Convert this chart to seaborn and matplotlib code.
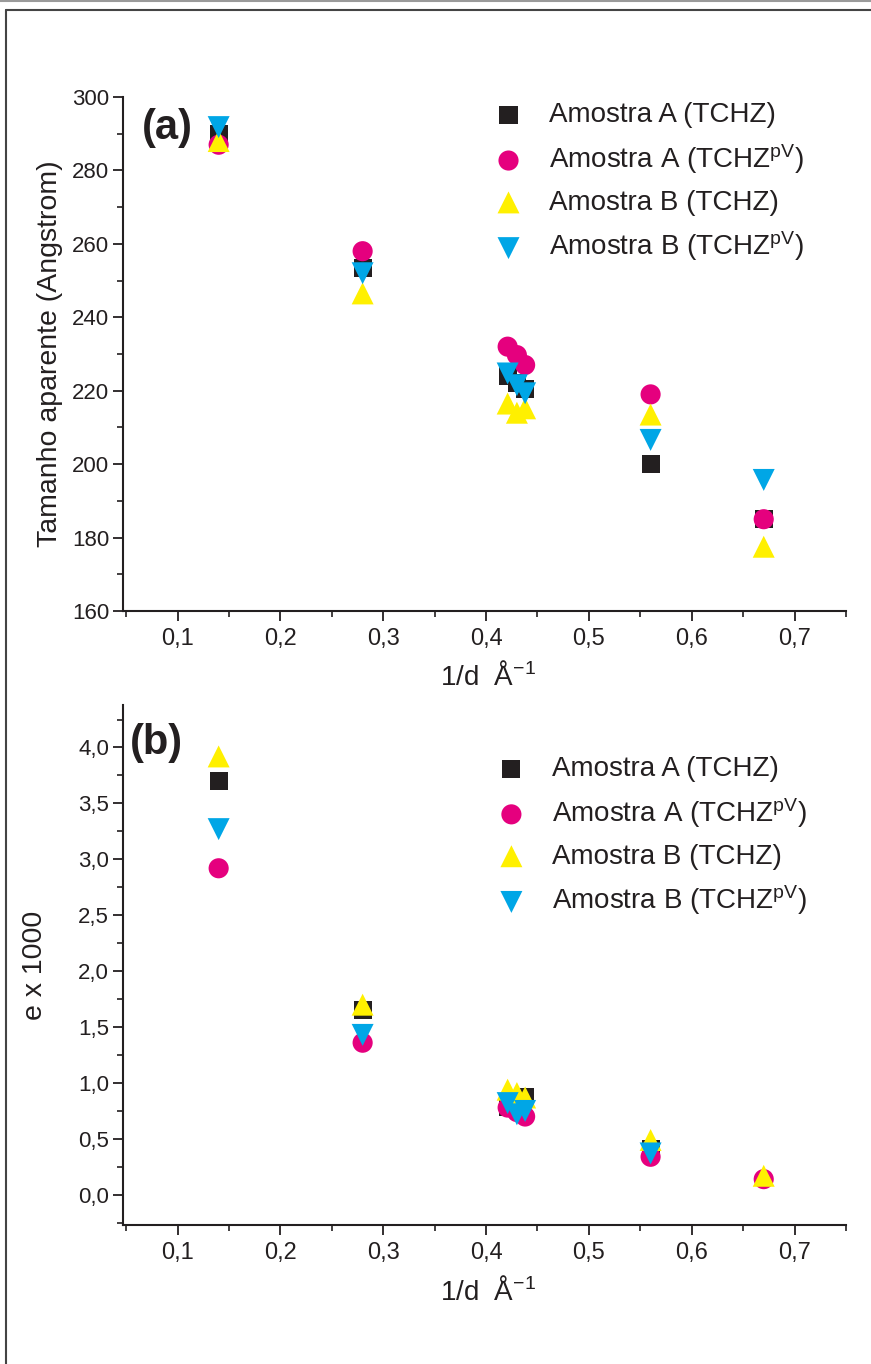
import numpy as np
import pandas as pd
import matplotlib
matplotlib.use("Agg")
import matplotlib.pyplot as plt
import seaborn as sns
from matplotlib import font_manager as fm
from matplotlib.ticker import MultipleLocator, FuncFormatter
from matplotlib.lines import Line2D

# ---------------- data ----------------
series_labels = [
    "Amostra A (TCHZ)",
    "Amostra A (TCHZ$^{\\mathrm{pV}}$)",
    "Amostra B (TCHZ)",
    "Amostra B (TCHZ$^{\\mathrm{pV}}$)",
]
inv_d = [0.14, 0.28, 0.421, 0.43, 0.438, 0.56, 0.67]

# (a) apparent size (Angstrom)
size_A_tchz = [290.0, 253.5, 224.0, 222.0, 220.5, 200.0, 185.0]
size_A_pv   = [287.0, 258.0, 232.0, 229.7, 227.0, 219.0, 185.0]
size_B_tchz = [288.0, 246.5, 216.5, 214.0, 215.2, 213.5, 177.5]
size_B_pv   = [291.8, 252.0, 224.7, 221.5, 219.3, 206.6, 195.7]

# (b) strain e x 1000
e_A_tchz = [3.70, 1.65, 0.79, 0.83, 0.87, 0.41, np.nan]
e_A_pv   = [2.92, 1.36, 0.78, 0.74, 0.70, 0.34, 0.14]
e_B_tchz = [3.92, 1.70, 0.94, 0.91, 0.87, 0.49, 0.17]
e_B_pv   = [3.27, 1.43, 0.82, 0.72, 0.75, 0.37, np.nan]

colors  = ["#231f20", "#e5007e", "#fff000", "#00a6e6"]
markers = ["s", "o", "^", "v"]
msizes  = [170, 210, 250, 250]

# ---------------- style ----------------
sns.set_style("ticks")
names = {f.name for f in fm.fontManager.ttflist}
NARROW = "Liberation Sans Narrow" if "Liberation Sans Narrow" in names else "Liberation Sans"
plt.rcParams["font.family"] = ["Liberation Sans", "DejaVu Sans"]
plt.rcParams["mathtext.fontset"] = "custom"
plt.rcParams["mathtext.rm"] = "Liberation Sans"
plt.rcParams["mathtext.it"] = "Liberation Sans:italic"
plt.rcParams["mathtext.bf"] = "Liberation Sans:bold"
INK = "#231f20"

W, H = 871, 1364
fig = plt.figure(figsize=(W / 100, H / 100), dpi=100)

def px_axes(x0, y0, x1, y1):
    return fig.add_axes([x0 / W, 1 - y1 / H, (x1 - x0) / W, (y1 - y0) / H])

ax1 = px_axes(123, 97, 846, 611)
ax2 = px_axes(123, 705, 846, 1225)

comma1 = FuncFormatter(lambda v, p: f"{v:.1f}".replace(".", ","))
intfmt = FuncFormatter(lambda v, p: f"{v:.0f}")

def draw(ax, ys):
    for lab, y, c, m, s in zip(series_labels, ys, colors, markers, msizes):
        df = pd.DataFrame({"x": inv_d, "y": y}).dropna()
        sns.scatterplot(data=df, x="x", y="y", ax=ax, color=c, marker=m, s=s,
                        linewidth=0, edgecolor="none", label=lab, zorder=3)

def style(ax, xlab_y):
    sns.despine(ax=ax)
    for sp in ("left", "bottom"):
        ax.spines[sp].set_linewidth(1.5)
        ax.spines[sp].set_color(INK)
    ax.xaxis.set_major_locator(MultipleLocator(0.1))
    ax.xaxis.set_minor_locator(MultipleLocator(0.05))
    ax.xaxis.set_major_formatter(comma1)
    ax.set_xlim(0.047, 0.75)
    ax.tick_params(which="major", direction="out", length=7, width=1.3, color=INK,
                   labelcolor=INK)
    ax.tick_params(which="minor", direction="out", length=4, width=1.2, color=INK)
    ax.tick_params(axis="y", labelsize=16, pad=3)
    ax.tick_params(axis="x", labelsize=17, pad=5)
    for t in ax.get_xticklabels():
        t.set_family(NARROW)
    ax.set_xlabel("1/d  Å$^{\\mathrm{-1}}$", fontsize=20, family=NARROW, color=INK)
    ax.xaxis.set_label_coords(0.505, xlab_y)

# (a)
draw(ax1, [size_A_tchz, size_A_pv, size_B_tchz, size_B_pv])
ax1.set_ylim(160, 300)
ax1.yaxis.set_major_locator(MultipleLocator(20))
ax1.yaxis.set_minor_locator(MultipleLocator(10))
ax1.yaxis.set_major_formatter(intfmt)
style(ax1, -0.099)
ax1.set_ylabel("Tamanho aparente (Angstrom)", fontsize=20.5, color=INK)
ax1.yaxis.set_label_coords(-0.083, 0.5)
ax1.text(0.026, 0.94, "(a)", transform=ax1.transAxes, fontsize=30, fontweight="bold",
         ha="left", va="center", color=INK)
ax1.legend(loc="upper left", bbox_to_anchor=(0.514, 0.99), frameon=False, fontsize=20,
           handlelength=1.0, handletextpad=0.95, borderpad=0, borderaxespad=0,
           labelspacing=0.5, labelcolor=INK)

# (b)
draw(ax2, [e_A_tchz, e_A_pv, e_B_tchz, e_B_pv])
ax2.set_ylim(-0.27, 4.38)
ax2.yaxis.set_major_locator(MultipleLocator(0.5))
ax2.yaxis.set_minor_locator(MultipleLocator(0.25))
ax2.yaxis.set_major_formatter(comma1)
style(ax2, -0.100)
ax2.set_ylabel("e x 1000", fontsize=20.5, color=INK)
ax2.yaxis.set_label_coords(-0.104, 0.5)
ax2.text(0.01, 0.927, "(b)", transform=ax2.transAxes, fontsize=30, fontweight="bold",
         ha="left", va="center", color=INK)
ax2.legend(loc="upper left", bbox_to_anchor=(0.518, 0.902), frameon=False, fontsize=20,
           handlelength=1.0, handletextpad=0.95, borderpad=0, borderaxespad=0,
           labelspacing=0.5, labelcolor=INK)

# page frame
fig.add_artist(Line2D([0, 1], [1 - 1 / H, 1 - 1 / H], transform=fig.transFigure,
                      color="#9a9a9a", lw=1.5))
fig.add_artist(Line2D([6 / W, 1], [1 - 10 / H, 1 - 10 / H], transform=fig.transFigure,
                      color="#444444", lw=1.5))
fig.add_artist(Line2D([6 / W, 6 / W], [0, 1 - 10 / H], transform=fig.transFigure,
                      color="#444444", lw=1.5))

fig.savefig("out.png", dpi=100)
